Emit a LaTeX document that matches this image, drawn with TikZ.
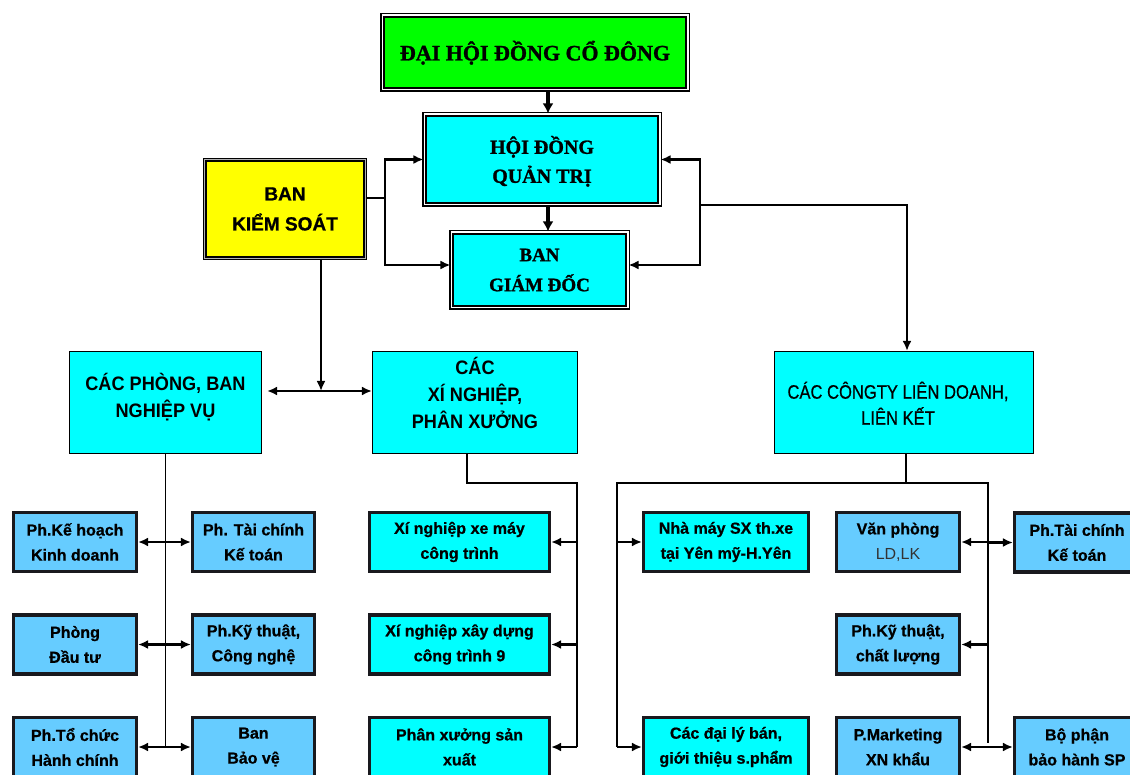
\documentclass[tikz,border=0pt]{standalone}
\usepackage{fontspec}
\setmainfont{Liberation Sans}
\newfontfamily\serifb[FakeBold=1.2]{Liberation Serif}
\newfontfamily\heavyf[FakeBold=0.8]{Liberation Sans}
\newfontfamily\narrowb[FakeStretch=0.93]{Liberation Sans}
\newfontfamily\narrowr[FakeStretch=0.85,FakeBold=0.6]{Liberation Sans}
\usetikzlibrary{arrows.meta}
\definecolor{cgreen}{RGB}{0,255,0}
\definecolor{ccyan}{RGB}{0,255,255}
\definecolor{cyel}{RGB}{255,255,0}
\definecolor{clblue}{RGB}{102,204,255}
\definecolor{cframe}{RGB}{25,25,30}
\newcommand{\mlines}[2]{\raisebox{#1}[\height][\depth]{\begin{tabular}{@{}c@{}}#2\end{tabular}}}
\begin{document}
\begin{tikzpicture}[x=1pt,y=-1pt,
  every node/.style={inner sep=0pt, align=center, text=black},
  topbox/.style={draw=black, line width=1.6pt, double=white, double distance=1.5pt},
  ksbox/.style={draw=black, line width=1.3pt, double=white!70!black, double distance=1.2pt, fill=cyel},
  midbox/.style={draw=black, line width=1.5pt, fill=ccyan, minimum height=101.7pt},
  sbox/.style={draw=cframe, line width=3.2pt, fill=clblue, minimum width=123pt, minimum height=59pt,
    font=\heavyf\bfseries\fontsize{16}{25}\selectfont},
  cbox/.style={sbox, fill=ccyan},
  conn/.style={draw=black, line width=2.3pt},
  arr/.style={conn, -{Latex[length=10pt,width=9pt]}},
  arrb/.style={conn, {Latex[length=10pt,width=9pt]}-{Latex[length=10pt,width=9pt]}},
  heavy/.style={draw=black, line width=4pt, -{Latex[length=10pt,width=11pt]}}
]
\useasboundingbox[fill=white] (0,0) rectangle (1130,775);

% top level
\node[topbox, fill=cgreen, minimum width=305.5pt, minimum height=74.5pt,
  font=\serifb\bfseries\fontsize{22}{26}\selectfont] (dhd) at (535,52.5) {\mlines{-2pt}{ĐẠI HỘI ĐỒNG CỔ ĐÔNG}};
\node[topbox, fill=ccyan, minimum width=235.5pt, minimum height=90.5pt,
  font=\serifb\bfseries\fontsize{20}{29}\selectfont] (hdqt) at (542,159.5) {\mlines{-3pt}{HỘI ĐỒNG\\QUẢN TRỊ}};
\node[topbox, fill=ccyan, minimum width=176.5pt, minimum height=75.5pt,
  font=\serifb\bfseries\fontsize{19}{30}\selectfont] (bgd) at (539.5,270) {BAN\\GIÁM ĐỐC};
\node[ksbox, minimum width=160.4pt, minimum height=98.4pt,
  font=\heavyf\bfseries\fontsize{19}{30}\selectfont] (bks) at (285,209) {BAN\\KIỂM SOÁT};

% middle level
\node[midbox, minimum width=191.7pt, font=\narrowb\bfseries\fontsize{19.5}{27}\selectfont]
  (cp) at (165.5,402.5) {\mlines{4pt}{CÁC PHÒNG, BAN\\NGHIỆP VỤ}};
\node[midbox, minimum width=204.7pt, font=\narrowb\bfseries\fontsize{19.5}{27}\selectfont]
  (xn) at (475,402.5) {\mlines{6pt}{CÁC\\XÍ NGHIỆP,\\PHÂN XƯỞNG}};
\node[midbox, minimum width=258.7pt, font=\narrowr\fontsize{19.5}{26}\selectfont]
  (ct) at (904,402.5) {\raisebox{-4pt}[\height][\depth]{\hspace*{-12pt}\begin{tabular}{@{}c@{}}CÁC CÔNGTY LIÊN DOANH,\\LIÊN KẾT\end{tabular}}};

% bottom boxes, left group
\node[sbox] (a1) at (75,542) {Ph.Kế hoạch\\Kinh doanh};
\node[sbox] (a2) at (75,644.5) {Phòng\\Đầu tư};
\node[sbox] (a3) at (75,747) {Ph.Tổ chức\\Hành chính};
\node[sbox, minimum width=122pt] (b1) at (253.5,542) {Ph. Tài chính\\Kế toán};
\node[sbox, minimum width=122pt] (b2) at (253.5,644.5) {Ph.Kỹ thuật,\\Công nghệ};
\node[sbox, minimum width=122pt] (b3) at (253.5,747) {Ban\\Bảo vệ};
% xi nghiep group
\node[cbox, minimum width=180pt] (c1) at (459.5,542) {Xí nghiệp xe máy\\công trình};
\node[cbox, minimum width=180pt] (c2) at (459.5,644.5) {Xí nghiệp xây dựng\\công trình 9};
\node[cbox, minimum width=180pt] (c3) at (459.5,747) {Phân xưởng sản\\xuất};
% cong ty group
\node[cbox, minimum width=165pt] (d1) at (726,542) {Nhà máy SX th.xe\\tại Yên mỹ-H.Yên};
\node[cbox, minimum width=165pt] (d3) at (726,747) {Các đại lý bán,\\giới thiệu s.phẩm};
\node[sbox] (e1) at (898,542) {Văn phòng\\{\setmainfont{Liberation Sans}\mdseries\color{black!80}LD,LK}};
\node[sbox] (e2) at (898,644.5) {Ph.Kỹ thuật,\\chất lượng};
\node[sbox] (e3) at (898,747) {P.Marketing\\XN khẩu};
\node[sbox, minimum width=125pt] (f1) at (1077,542.5) {Ph.Tài chính\\Kế toán};
\node[sbox, minimum width=125pt] (f3) at (1077,747) {Bộ phận\\bảo hành SP};

% junction points
\coordinate (jl) at (385,198);
\coordinate (jr) at (700,205);
\coordinate (jb) at (321,391);
\coordinate (xj) at (577,483);
\coordinate (lj) at (617,483);
\coordinate (rj) at (988,483);

% top connectors
\draw[heavy] ([xshift=13pt]dhd.south) -- ([xshift=13pt]dhd.south |- hdqt.north);
\draw[heavy, line width=3.4pt] ([xshift=6pt]hdqt.south) -- ([xshift=6pt]hdqt.south |- bgd.north);
\draw[conn] (bks.east |- jl) -- (jl);
\draw[arr] (jl) |- (hdqt.west);
\draw[arr] (jl) |- ([yshift=5pt]bgd.west);
\draw[arr] (jr) |- (hdqt.east);
\draw[arr] (jr) |- ([yshift=5pt]bgd.east);
\draw[conn] (hdqt.east -| jr) -- (jr);
\draw[arr] (jr) -| ([xshift=3pt]ct.north);

% control board to departments
\draw[arr] ([xshift=36pt]bks.south) -- (jb);
\draw[arrb] ([xshift=5pt]cp.east |- jb) -- (xn.west |- jb);

% departments
\draw[conn, line width=1.8pt] (cp.south) -- (cp.south |- a3.east);
\draw[arr] (cp.south |- a1.east) -- (a1.east);
\draw[arr] (cp.south |- b1.west) -- (b1.west);
\draw[arr] (cp.south |- a2.east) -- (a2.east);
\draw[arr] (cp.south |- b2.west) -- (b2.west);
\draw[arr] (cp.south |- a3.east) -- (a3.east);
\draw[arr] (cp.south |- b3.west) -- (b3.west);

% enterprises
\draw[conn] ([xshift=-8pt]xn.south) |- (xj) -- (xj |- c3.east);
\draw[arr] (xj |- c1.east) -- (c1.east);
\draw[arr] (xj |- c2.east) -- (c2.east);
\draw[arr] (xj |- c3.east) -- (c3.east);

% joint ventures
\draw[conn] ([xshift=2pt]ct.south) -- ([xshift=2pt]ct.south |- lj);
\draw[conn] (lj |- d3.west) -- (lj) -- (rj) -- ([yshift=4pt]rj |- e3.east);
\draw[arr] (lj |- d1.west) -- (d1.west);
\draw[arr] (lj |- d3.west) -- (d3.west);
\draw[arr] (rj |- e1.east) -- (e1.east);
\draw[arr] (rj |- f1.west) -- (f1.west);
\draw[arr] (rj |- e2.east) -- (e2.east);
\draw[arr] (rj |- e3.east) -- (e3.east);
\draw[arr] (rj |- f3.west) -- (f3.west);
\end{tikzpicture}
\end{document}
